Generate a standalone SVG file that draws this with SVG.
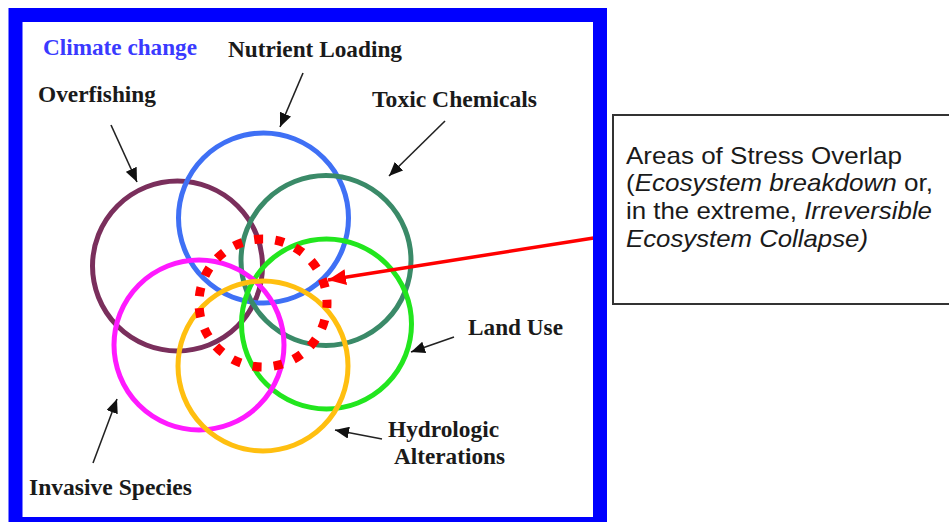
<svg xmlns="http://www.w3.org/2000/svg" width="949" height="522" viewBox="0 0 949 522">
<style>
.lbl{font-family:"Liberation Serif","Times New Roman",serif;font-weight:bold;font-size:23px;fill:#1a1a1a}
.blue{fill:#3a3aff}
.ring{fill:none;stroke-width:5}
.ptr{stroke:#222;stroke-width:1.6;fill:none;marker-end:url(#ah)}
.box{font-family:"Liberation Sans",Arial,sans-serif;font-size:24px;fill:#1a1a1a}
</style>
<defs>
<marker id="ah" markerUnits="userSpaceOnUse" markerWidth="16" markerHeight="12" refX="14" refY="6" orient="auto">
<path d="M0,0 L14,6 L0,12 Z" fill="#111"/>
</marker>
<marker id="rah" markerUnits="userSpaceOnUse" markerWidth="20" markerHeight="16" refX="18" refY="8" orient="auto">
<path d="M0,0 L18,8 L0,16 Z" fill="#ff0000"/>
</marker>
</defs>
<rect width="949" height="522" fill="#fff"/>
<g id="circles">
<circle id="overfishing-circle" class="ring" cx="177.5" cy="266" r="85" stroke="#7a2f5c"/>
<circle id="nutrient-circle" class="ring" cx="263.5" cy="218" r="85" stroke="#3f70f5"/>
<circle id="toxic-circle" class="ring" cx="326" cy="260.5" r="85" stroke="#3a8a68"/>
<circle id="landuse-circle" class="ring" cx="326.5" cy="324" r="85" stroke="#22e61e"/>
<circle id="invasive-circle" class="ring" cx="199" cy="345" r="85" stroke="#ff1aff"/>
<circle id="hydrologic-circle" class="ring" cx="263" cy="366" r="85" stroke="#ffbf10"/>
<circle id="overlap-circle" cx="263" cy="303" r="64" fill="none" stroke="#ff0000" stroke-width="9" stroke-dasharray="9 12.16" stroke-dashoffset="4"/>
</g>
<g id="connectors">
<line class="ptr" x1="303" y1="73" x2="280" y2="127"/>
<line class="ptr" x1="111" y1="125" x2="137" y2="182"/>
<line class="ptr" x1="445" y1="121" x2="389" y2="176"/>
<line class="ptr" x1="454" y1="337" x2="411" y2="352"/>
<line class="ptr" x1="382" y1="439" x2="335" y2="430"/>
<line class="ptr" x1="93" y1="463" x2="117" y2="399"/>
<line x1="600" y1="237" x2="328" y2="280" stroke="#ff0000" stroke-width="3.5" marker-end="url(#rah)"/>
</g>
<g id="frame">
<rect x="15.5" y="15" width="584.5" height="509" fill="none" stroke="#0000ff" stroke-width="14"/>
</g>
<g id="labels">
<text id="climate" class="lbl blue" x="43" y="55" textLength="154" lengthAdjust="spacingAndGlyphs">Climate change</text>
<text id="nutrient" class="lbl" x="228" y="57" textLength="174" lengthAdjust="spacingAndGlyphs">Nutrient Loading</text>
<text id="overfishing" class="lbl" x="38" y="102" textLength="118" lengthAdjust="spacingAndGlyphs">Overfishing</text>
<text id="toxic" class="lbl" x="372" y="107" textLength="165" lengthAdjust="spacingAndGlyphs">Toxic Chemicals</text>
<text id="landuse" class="lbl" x="468" y="335" textLength="95" lengthAdjust="spacingAndGlyphs">Land Use</text>
<text id="hydrologic" class="lbl" x="388" y="437" textLength="111" lengthAdjust="spacingAndGlyphs">Hydrologic</text>
<text id="alterations" class="lbl" x="394" y="464" textLength="111" lengthAdjust="spacingAndGlyphs">Alterations</text>
<text id="invasive" class="lbl" x="29" y="495" textLength="163" lengthAdjust="spacingAndGlyphs">Invasive Species</text>
</g>
<g id="stress-box">
<rect x="613" y="115" width="345" height="189" fill="#fff" stroke="#333" stroke-width="2"/>
<text class="box" x="626" y="164" textLength="276" lengthAdjust="spacingAndGlyphs">Areas of Stress Overlap</text>
<text class="box" x="626" y="191" textLength="307" lengthAdjust="spacingAndGlyphs">(<tspan font-style="italic">Ecosystem breakdown</tspan> or,</text>
<text class="box" x="626" y="219" textLength="306" lengthAdjust="spacingAndGlyphs">in the extreme, <tspan font-style="italic">Irreversible</tspan></text>
<text class="box" x="626" y="247" textLength="242" lengthAdjust="spacingAndGlyphs" font-style="italic">Ecosystem Collapse)</text>
</g>
</svg>
